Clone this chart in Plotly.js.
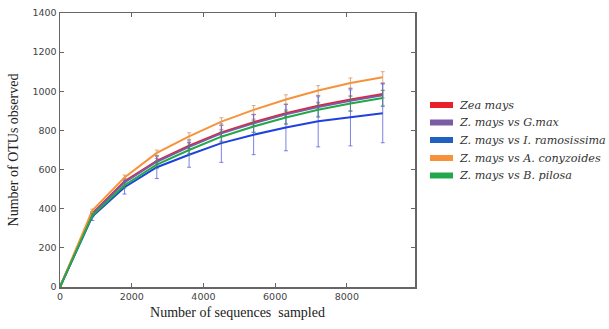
<!DOCTYPE html>
<html><head><meta charset="utf-8">
<script src="https://cdn.plot.ly/plotly-3.0.1.min.js"></script>
<style>body{margin:0;background:#fff}#chart{width:609px;height:329px}</style>
</head><body><div id="chart"></div>
<script>
const seqs = [0, 900, 1800, 2700, 3600, 4500, 5400, 6300, 7200, 8100, 9000];
const seriesNames = ["Zea mays", "Z. mays vs G.max", "Z. mays vs I. ramosissima", "Z. mays vs A. conyzoides", "Z. mays vs B. pilosa"];
const zeaMays   = [0, 375, 540, 645, 722, 790, 842, 888, 926, 958, 986];
const gMax      = [0, 372, 535, 640, 716, 785, 836, 882, 920, 952, 980];
const iRamos    = [0, 360, 510, 612, 676, 735, 778, 815, 847, 868, 888];
const aConyz    = [0, 390, 560, 685, 770, 845, 905, 958, 1004, 1042, 1072];
const bPilosa   = [0, 365, 520, 625, 700, 768, 820, 866, 906, 938, 966];
const errZea    = [0, 8, 10, 12, 14, 15, 16, 17, 18, 19, 20];
const errGmax   = [0, 12, 20, 30, 35, 40, 45, 50, 52, 55, 58];
const errIram   = [0, 20, 35, 58, 64, 98, 102, 119, 131, 147, 151];
const errAcon   = [0, 8, 12, 15, 18, 20, 22, 24, 25, 26, 28];
const errBpil   = [0, 10, 15, 20, 24, 28, 30, 32, 34, 36, 38];
const yTicks = [0, 200, 400, 600, 800, 1000, 1200, 1400];
const xTicks = [0, 2000, 4000, 6000, 8000];

const seriesVals = [zeaMays, gMax, iRamos, aConyz, bPilosa];
const seriesErr = [errZea, errGmax, errIram, errAcon, errBpil];
const lineColors = ["#e8202a", "#7b5aa6", "#2040e0", "#f7923a", "#22a84a"];
const swatchColors = ["#e8202a", "#7b5aa6", "#2060c0", "#f7923a", "#22a84a"];
const errColors = ["rgba(200,60,80,0.6)", "rgba(120,90,170,0.7)", "rgba(80,90,220,0.75)", "rgba(200,140,90,0.7)", "rgba(60,150,90,0.6)"];

const traces = seriesVals.map((v, i) => ({
  x: seqs, y: v, type: "scatter", mode: "lines", name: seriesNames[i],
  line: {color: lineColors[i], width: 2},
  error_y: {type: "data", array: seriesErr[i], visible: true, color: errColors[i], thickness: 1, width: 2},
  showlegend: false
}));

const L = 60, R = 415, T = 13, B = 287;
const W = R - L, H = B - T;
const px = x => (x - L) / W;
const py = y => (B - y) / H;

const shapes = [];
const annotations = [];
const legendY = [105, 122.5, 140, 158, 175.5];
seriesNames.forEach((n, i) => {
  shapes.push({type: "rect", xref: "paper", yref: "paper",
    x0: px(430), x1: px(453), y0: py(legendY[i] + 3), y1: py(legendY[i] - 3),
    fillcolor: swatchColors[i], line: {width: 0}});
  annotations.push({xref: "paper", yref: "paper", x: px(457), y: py(legendY[i]),
    xanchor: "left", yanchor: "middle", showarrow: false, text: n,
    font: {family: "DejaVu Serif", style: "italic", size: 11.2, color: "#333"}});
});

const axisCommon = {
  showgrid: false, zeroline: false, showline: true, linecolor: "#666", linewidth: 1.5,
  mirror: "ticks", ticks: "inside", ticklen: 4, tickcolor: "#666", tickwidth: 1,
  tickfont: {family: "DejaVu Sans, sans-serif", size: 9.5, color: "#444"}
};

const layout = {
  width: 609, height: 329,
  margin: {l: L, r: 609 - R, t: T, b: 329 - B},
  paper_bgcolor: "#fff", plot_bgcolor: "#fff",
  xaxis: Object.assign({}, axisCommon, {range: [0, 9900], tickvals: xTicks, ticktext: xTicks.map(String),
    title: {text: "Number of sequences  sampled", font: {family: "Liberation Serif, serif", size: 14, color: "#222"}, standoff: 6}}),
  yaxis: Object.assign({}, axisCommon, {range: [0, 1400], tickvals: yTicks, ticktext: yTicks.map(String),
    title: {text: "Number of OTUs observed", font: {family: "Liberation Serif, serif", size: 14, color: "#222"}, standoff: 10}}),
  shapes: shapes, annotations: annotations, showlegend: false
};
Plotly.newPlot("chart", traces, layout, {displayModeBar: false, staticPlot: true});
</script></body></html>
